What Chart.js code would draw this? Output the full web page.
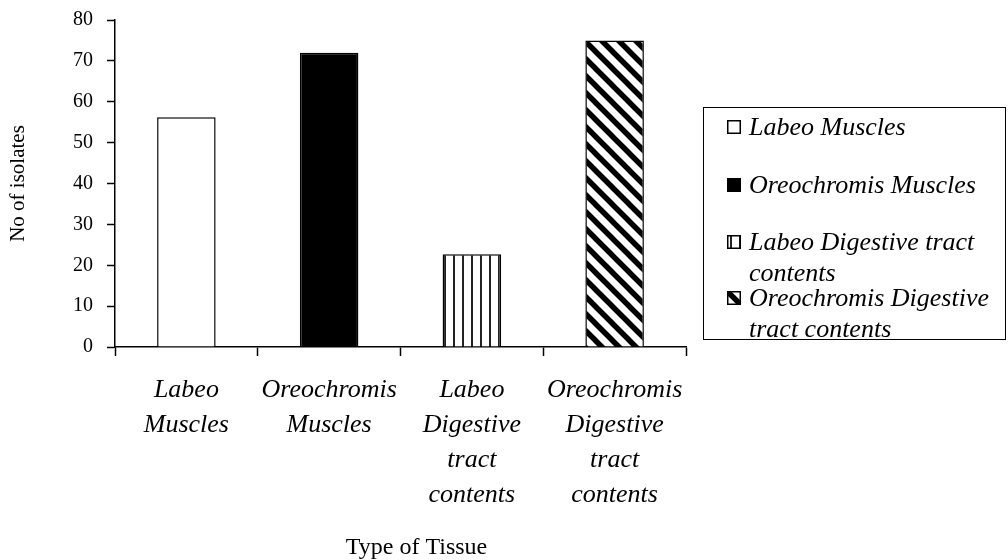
<!DOCTYPE html>
<html>
<head>
<meta charset="utf-8">
<script src="https://cdn.jsdelivr.net/npm/chart.js@4.4.1/dist/chart.umd.min.js"></script>
<style>
    body { margin: 0; background: #fff; }
    #wrap { position: relative; width: 1008px; height: 560px; }
    #legend {
        position: absolute; left: 703px; top: 107px; width: 303px; height: 233px;
        border: 1.5px solid #000; box-sizing: border-box;
        font: italic 26px "Liberation Serif", "Times New Roman", serif; color: #000;
    }
    .item { position: absolute; left: 45px; width: 252px; line-height: 31px; white-space: normal; }
    .item canvas { position: absolute; left: -22px; top: 9px; }
</style>
</head>
<body>
<div id="wrap">
    <canvas id="myChart" width="1008" height="560"></canvas>
    <div id="legend"></div>
</div>
<script>
// data
const categories = [
    ['Labeo', 'Muscles'],
    ['Oreochromis', 'Muscles'],
    ['Labeo', 'Digestive', 'tract', 'contents'],
    ['Oreochromis', 'Digestive', 'tract', 'contents']
];
const legendLabels = [
    'Labeo Muscles',
    'Oreochromis Muscles',
    'Labeo Digestive tract contents',
    'Oreochromis Digestive tract contents'
];
const isolates = [56.2, 72, 22.7, 75];
const yMin = 0;
const yMax = 80;
const yStep = 10;

const serif = '"Liberation Serif", "Times New Roman", serif';

// fill patterns
const makePattern = (kind) => {
    const c = document.createElement('canvas');
    const ctx = c.getContext('2d');
    if (kind === 'white') {
        c.width = c.height = 4;
        ctx.fillStyle = '#fff';
        ctx.fillRect(0, 0, 4, 4);
    } else if (kind === 'black') {
        c.width = c.height = 4;
        ctx.fillStyle = '#000';
        ctx.fillRect(0, 0, 4, 4);
    } else if (kind === 'vertical') {
        c.width = 9; c.height = 9;
        ctx.fillStyle = '#fff';
        ctx.fillRect(0, 0, 9, 9);
        ctx.fillStyle = '#222';
        ctx.fillRect(3, 0, 2, 9);
    } else {
        c.width = c.height = 17;
        ctx.fillStyle = '#fff';
        ctx.fillRect(0, 0, 17, 17);
        ctx.strokeStyle = '#000';
        ctx.lineWidth = 5.5;
        ctx.beginPath();
        ctx.moveTo(-4, -4); ctx.lineTo(21, 21);
        ctx.moveTo(-21, -4); ctx.lineTo(4, 21);
        ctx.moveTo(13, -4); ctx.lineTo(38, 21);
        ctx.stroke();
    }
    return c;
}

const kinds = ['white', 'black', 'vertical', 'diagonal'];
const ctx = document.getElementById('myChart').getContext('2d');
const fills = kinds.map(k => ctx.createPattern(makePattern(k), 'repeat'));

// the x title sits a little right of the plot centre in the original
const shiftXTitle = {
    id: 'shiftXTitle',
    beforeDraw(chart) {
        const s = chart.scales.x;
        if (s._shifted) return;
        const orig = s.drawTitle;
        s.drawTitle = function () {
            const c = this.ctx;
            c.save();
            c.translate(16, 0);
            orig.apply(this, arguments);
            c.restore();
        };
        s._shifted = true;
    }
};

const chart = new Chart(ctx, {
    type: 'bar',
    data: {
        labels: categories,
        datasets: [{
            data: isolates,
            backgroundColor: fills,
            borderColor: '#000',
            borderWidth: 1.5,
            barPercentage: 0.41,
            categoryPercentage: 1
        }]
    },
    options: {
        responsive: false,
        animation: false,
        layout: { padding: { left: 0, right: 322, top: 20, bottom: 0 } },
        plugins: { legend: { display: false }, tooltip: { enabled: false } },
        scales: {
            x: {
                afterFit: (s) => { s.height = 213; s.paddingLeft = 0; s.paddingRight = 0; },
                grid: { drawOnChartArea: false, color: '#000', tickLength: 9, tickWidth: 1.5 },
                border: { color: '#000', width: 1.5 },
                ticks: {
                    color: '#000', maxRotation: 0, autoSkip: false, padding: 16.5,
                    font: { family: serif, size: 26, style: 'italic', lineHeight: 1.346 }
                },
                title: {
                    display: true, text: 'Type of Tissue', color: '#000',
                    padding: { top: 0, bottom: 0 },
                    font: { family: serif, size: 24, lineHeight: 1 }
                }
            },
            y: {
                min: yMin, max: yMax,
                afterFit: (s) => { s.width = 115; s.paddingTop = 0; s.paddingBottom = 0; },
                grid: { drawOnChartArea: false, color: '#000', tickLength: 8, tickWidth: 1.5 },
                border: { color: '#000', width: 1.5 },
                ticks: {
                    stepSize: yStep, color: '#000', padding: 14,
                    font: { family: serif, size: 20 }
                },
                title: {
                    display: true, text: 'No of isolates', color: '#000',
                    padding: { top: 6, bottom: 0 },
                    font: { family: serif, size: 21 }
                }
            }
        }
    },
    plugins: [shiftXTitle]
});

// boxed legend at the right, same fills as the bars
const legendTops = [3, 61, 118, 174];
const buildLegend = () => {
    const box = document.getElementById('legend');
    legendLabels.forEach((label, i) => {
        const item = document.createElement('div');
        item.className = 'item';
        item.style.top = legendTops[i] + 'px';
        const sw = document.createElement('canvas');
        sw.width = 14; sw.height = 14;
        const sctx = sw.getContext('2d');
        sctx.fillStyle = sctx.createPattern(makePattern(kinds[i]), 'repeat');
        sctx.fillRect(0, 0, 14, 14);
        sctx.strokeStyle = '#000';
        sctx.lineWidth = 1.5;
        sctx.strokeRect(0.75, 0.75, 12.5, 12.5);
        item.appendChild(sw);
        item.appendChild(document.createTextNode(label));
        box.appendChild(item);
    });
}
buildLegend();
</script>
</body>
</html>
